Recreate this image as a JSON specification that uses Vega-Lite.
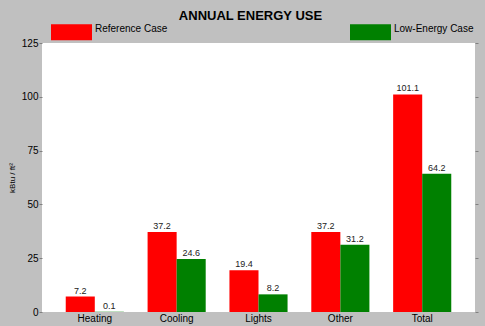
{
  "$schema": "https://vega.github.io/schema/vega-lite/v6.json",
  "width": 433,
  "height": 269,
  "autosize": {"type": "none"},
  "padding": {"left": 42, "top": 43, "right": 10, "bottom": 14},
  "background": "#c0c0c0",
  "title": {"text": "ANNUAL ENERGY USE", "fontSize": 13, "fontWeight": "bold", "font": "Liberation Sans", "color": "#000000", "anchor": "middle", "frame": "group", "dx": -8, "offset": -11},
  "config": {
    "font": "Liberation Sans",
    "view": {"fill": "#ffffff", "stroke": null},
    "axis": {"labelFont": "Liberation Sans", "labelColor": "#000000", "titleFont": "Liberation Sans", "grid": false, "domain": false}
  },
  "data": {"values": [
    {"category": "Heating", "case": "Reference Case", "value": 7.2},
    {"category": "Heating", "case": "Low-Energy Case", "value": 0.1},
    {"category": "Cooling", "case": "Reference Case", "value": 37.2},
    {"category": "Cooling", "case": "Low-Energy Case", "value": 24.6},
    {"category": "Lights", "case": "Reference Case", "value": 19.4},
    {"category": "Lights", "case": "Low-Energy Case", "value": 8.2},
    {"category": "Other", "case": "Reference Case", "value": 37.2},
    {"category": "Other", "case": "Low-Energy Case", "value": 31.2},
    {"category": "Total", "case": "Reference Case", "value": 101.1},
    {"category": "Total", "case": "Low-Energy Case", "value": 64.2}
  ]},
  "encoding": {
    "x": {"field": "category", "type": "nominal", "sort": ["Heating", "Cooling", "Lights", "Other", "Total"],
      "scale": {"paddingInner": 0.29, "paddingOuter": 0.29},
      "axis": {"title": null, "labelAngle": 0, "ticks": false, "labelFontSize": 10, "labelPadding": 1}},
    "xOffset": {"field": "case", "type": "nominal", "sort": ["Reference Case", "Low-Energy Case"]},
    "y": {"field": "value", "type": "quantitative", "scale": {"domain": [0, 125], "nice": false}}
  },
  "layer": [
    {
      "mark": {"type": "bar"},
      "encoding": {
        "y": {"field": "value", "type": "quantitative", "scale": {"domain": [0, 125], "nice": false},
          "axis": {"orient": "left", "values": [0, 25, 50, 75, 100, 125], "labelFontSize": 10, "tickSize": 3, "tickColor": "#808080", "labelPadding": 1,
            "title": "kBtu / ft²", "titleFontSize": 8, "titleFontWeight": "normal", "titleColor": "#000000", "titlePadding": 5}},
        "color": {"field": "case", "type": "nominal", "sort": ["Reference Case", "Low-Energy Case"],
          "scale": {"domain": ["Reference Case", "Low-Energy Case"], "range": ["#ff0000", "#008000"]},
          "legend": {"title": null, "orient": "none", "legendX": 9, "legendY": -31.5, "direction": "horizontal", "columns": 2,
            "columnPadding": 182, "padding": 0, "symbolType": "M-1,-0.39H1V0.39H-1Z", "symbolSize": 1681, "symbolStrokeWidth": 0, "symbolOpacity": 1,
            "labelFontSize": 10, "labelFont": "Liberation Sans", "labelColor": "#000000", "labelOffset": 3, "labelBaseline": "alphabetic"}}
      }
    },
    {
      "mark": {"type": "text", "baseline": "bottom", "dy": -1, "fontSize": 9, "font": "Liberation Sans", "color": "#222222"},
      "encoding": {
        "text": {"field": "value", "type": "quantitative", "format": ".1f"},
        "y": {"field": "value", "type": "quantitative", "scale": {"domain": [0, 125], "nice": false},
          "axis": {"orient": "right", "values": [0, 25, 50, 75, 100, 125], "labels": false, "tickSize": 3, "tickColor": "#808080", "title": null}}
      }
    }
  ],
  "resolve": {"axis": {"y": "independent"}}
}
